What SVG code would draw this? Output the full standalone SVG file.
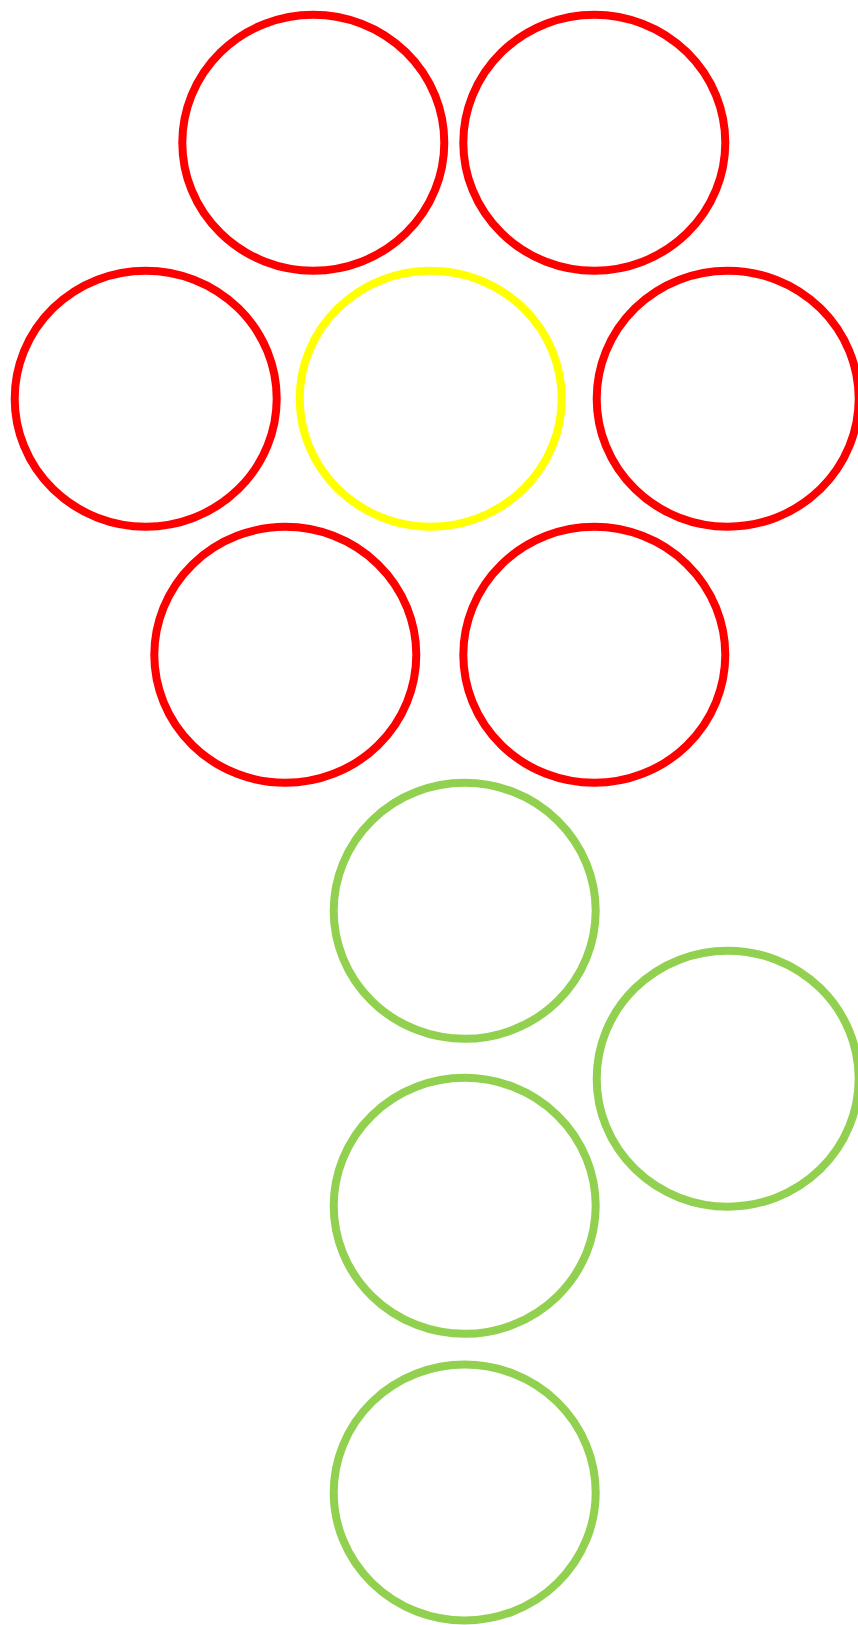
<svg xmlns="http://www.w3.org/2000/svg" width="858" height="1625" viewBox="0 0 858 1625">
<style>
.n{fill:none;stroke-width:8}
.r{stroke:#FF0000}
.y{stroke:#FFFF00}
.g{stroke:#92D050}
</style>
<rect width="858" height="1625" fill="#FFFFFF"/>
<g id="n1"><ellipse class="n r" cx="313.3" cy="142.7" rx="131" ry="128"/></g>
<g id="n2"><ellipse class="n r" cx="594.3" cy="142.7" rx="131" ry="128"/></g>
<g id="n3"><ellipse class="n r" cx="145.7" cy="398.7" rx="131" ry="128"/></g>
<g id="n4"><ellipse class="n y" cx="430.7" cy="398.7" rx="131" ry="128"/></g>
<g id="n5"><ellipse class="n r" cx="727.7" cy="398.7" rx="131" ry="128"/></g>
<g id="n6"><ellipse class="n r" cx="285.3" cy="654.8" rx="131" ry="128"/></g>
<g id="n7"><ellipse class="n r" cx="594.3" cy="654.8" rx="131" ry="128"/></g>
<g id="n8"><ellipse class="n g" cx="464.7" cy="910.8" rx="131" ry="128"/></g>
<g id="n9"><ellipse class="n g" cx="727.7" cy="1078.7" rx="131" ry="128"/></g>
<g id="n10"><ellipse class="n g" cx="464.7" cy="1205.8" rx="131" ry="128"/></g>
<g id="n11"><ellipse class="n g" cx="464.7" cy="1492.5" rx="131" ry="128"/></g>
<g id="connectors"></g>
</svg>
